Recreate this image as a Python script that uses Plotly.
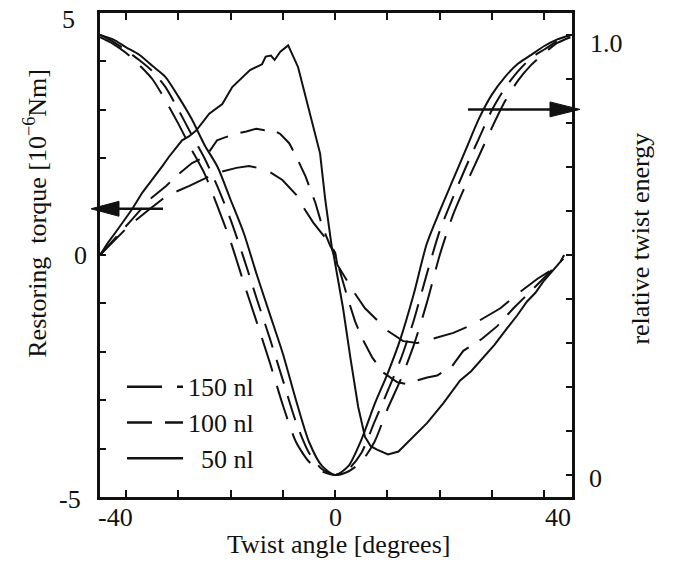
import plotly.graph_objects as go

# ---------------- data ----------------
# Restoring torque [1e-6 Nm] vs twist angle [deg]
x_t50 = [-45, -43.5, -42, -40.5, -38.9, -36.9, -35, -33.1, -31.8, -29.3, -28, -26.6, -24.1, -21.6,
         -19.7, -17, -16.3, -14, -13.3, -12.3, -11.6, -10.5, -9.0, -7.1, -5.4, -2.9, -1.9, -0.6, -0.3,
         1.5, 2.9, 4.4, 5.7, 6.8, 8, 10.1, 12.1, 14.9, 17.6, 20.7, 23.9, 26, 28.3, 30.5, 32.9,
         34.8, 36.7, 38.3, 39.8, 41.5, 43.1, 43.8]
t50 = [0.0, 0.25, 0.47, 0.7, 0.94, 1.29, 1.55, 1.83, 2.03, 2.37, 2.45, 2.57, 2.92, 3.12,
       3.47, 3.75, 3.82, 3.94, 4.1, 4.12, 4.03, 4.2, 4.33, 3.88, 3.18, 2.1, 1.14, 0.12, 0.0,
       -1.1, -2.12, -3.14, -3.76, -3.95, -4.02, -4.12, -4.06, -3.76, -3.47, -3.06, -2.59, -2.4, -2.12, -1.85, -1.51,
       -1.25, -0.96, -0.78, -0.55, -0.33, -0.14, 0.0]

x_t100 = [-45, -42, -38.9, -35.6, -32.3, -30.4, -27.4, -24.7, -22.6, -21.6, -18.9, -17, -15.1, -13.5,
          -12.1, -10.5, -8.8, -7.5, -5.7, -3.8, -2.5, -1, 0, 2.3, 3.8, 5.1, 7.1, 9.2, 11.9, 13.5,
          15.7, 17.6, 19.5, 22.4, 24.5, 28.1, 31, 34.1, 37.3, 40.6, 43.6]
t100 = [0.0, 0.35, 0.73, 1.14, 1.43, 1.63, 1.9, 2.04, 2.37, 2.41, 2.51, 2.55, 2.61, 2.58,
        2.6, 2.5, 2.31, 2.04, 1.63, 1.08, 0.6, 0.2, 0.0, -0.86, -1.37, -1.71, -2.12, -2.43, -2.63, -2.66,
        -2.59, -2.53, -2.49, -2.29, -1.98, -1.73, -1.47, -1.1, -0.76, -0.41, -0.08]

x_t150 = [-45, -42, -39.4, -35.6, -32.3, -27.9, -25.5, -22.8, -18.9, -16.5, -13.2, -10.1, -7.5, -6.3,
          -4.2, -1.3, 0, 0.4, 3.8, 5.7, 10.1, 13, 15.7, 18.8, 22.6, 26.4, 31.6, 35.4, 38.7, 41.7, 43.6]
t150 = [0.0, 0.33, 0.61, 0.94, 1.22, 1.43, 1.55, 1.69, 1.8, 1.84, 1.76, 1.55, 1.25, 1.02,
        0.67, 0.27, 0.05, -0.2, -0.8, -1.1, -1.57, -1.78, -1.82, -1.73, -1.61, -1.43, -1.1, -0.76, -0.49, -0.29, -0.08]

# Relative twist energy vs twist angle
x_e = [-45, -42.5, -40, -37.5, -35, -32.5, -30, -27.5, -25, -22.5, -20, -17.5, -15, -12.5, -10, -7.5, -5, -2.5, 0,
       2.5, 5, 7.5, 10, 12.5, 15, 17.5, 20, 22.5, 25, 27.5, 30, 32.5, 35, 37.5, 40, 42.5, 45]
e50 = [1.0, 0.99, 0.972, 0.955, 0.93, 0.905, 0.86, 0.81, 0.75, 0.70, 0.625, 0.55, 0.455, 0.365, 0.275, 0.17, 0.075, 0.02, 0.0,
       0.02, 0.08, 0.16, 0.23, 0.31, 0.41, 0.525, 0.60, 0.67, 0.74, 0.81, 0.865, 0.905, 0.935, 0.955, 0.975, 0.99, 1.0]
e100 = [1.0, 0.985, 0.965, 0.943, 0.918, 0.882, 0.83, 0.774, 0.72, 0.655, 0.58, 0.493, 0.40, 0.31, 0.215, 0.12, 0.05, 0.013, 0.0,
        0.013, 0.05, 0.12, 0.19, 0.262, 0.35, 0.456, 0.555, 0.63, 0.70, 0.765, 0.83, 0.88, 0.918, 0.948, 0.967, 0.986, 1.0]
e150 = [0.995, 0.98, 0.959, 0.932, 0.90, 0.852, 0.798, 0.74, 0.685, 0.61, 0.53, 0.437, 0.347, 0.255, 0.158, 0.075, 0.03, 0.008, 0.0,
        0.008, 0.03, 0.075, 0.15, 0.216, 0.294, 0.39, 0.50, 0.59, 0.66, 0.725, 0.79, 0.85, 0.897, 0.932, 0.959, 0.982, 0.995]

series_names = ["150 nl", "100 nl", "50 nl"]
x_ticks = [-40, -30, -20, -10, 0, 10, 20, 30, 40]
x_tick_label_vals = [-40, 0, 40]
x_tick_labels = ["-40", "0", "40"]
y_ticks = [-5, -4, -3, -2, -1, 0, 1, 2, 3, 4, 5]
y_tick_label_vals = [5, 0, -5]
y_tick_labels = ["5", "0", "-5"]
y2_ticks = [0, 0.1, 0.2, 0.3, 0.4, 0.5, 0.6, 0.7, 0.8, 0.9, 1.0]
y2_tick_label_vals = [1.0, 0]
y2_tick_labels = ["1.0", "0"]

# ---------------- style ----------------
W, H = 679, 563
OFF = 8  # page body margin of the written html
# plot frame in window pixels: left 100, right 572, top 10, bottom 497
L, R, T, B = 100 - OFF, W - (572 - OFF), 10 - OFF, H - (497 - OFF)
PLOT_H = H - T - B
FONT = "Liberation Serif, Times New Roman, Times, serif"
FS = 26
INK = "#111111"
DASH = {"150 nl": "35px,15px", "100 nl": "25px,13px", "50 nl": "solid"}
X_RANGE = [-45, 45.3]


def px2paper_x(px):
    return (px - OFF - L) / (W - L - R)


def px2paper_y(py):
    return (H - B - (py - OFF)) / PLOT_H


fig = go.Figure()

torque = {"150 nl": (x_t150, t150), "100 nl": (x_t100, t100), "50 nl": (x_t50, t50)}
energy = {"150 nl": e150, "100 nl": e100, "50 nl": e50}

for name in series_names:
    xs, ys = torque[name]
    fig.add_trace(go.Scatter(x=xs, y=ys, mode="lines", name=name, showlegend=False,
                             line=dict(color=INK, width=2, dash=DASH[name])))
for name in series_names:
    fig.add_trace(go.Scatter(x=x_e, y=energy[name], mode="lines", name=name + " energy",
                             showlegend=False, yaxis="y2",
                             line=dict(color=INK, width=2, dash=DASH[name], shape="spline", smoothing=0.7)))

axis_common = dict(showgrid=False, zeroline=False, showline=True, linecolor=INK, linewidth=2.5,
                   ticks="inside", tickcolor=INK, tickwidth=2, showticklabels=False)

fig.update_layout(
    width=W, height=H,
    margin=dict(l=L, r=R, t=T, b=B),
    paper_bgcolor="white", plot_bgcolor="white",
    font=dict(family=FONT, size=FS, color=INK),
    showlegend=False,
    xaxis=dict(range=X_RANGE, tickvals=x_ticks, ticklen=7, mirror="ticks", **axis_common),
    yaxis=dict(range=[-5, 5], tickvals=y_ticks, ticklen=6, **axis_common),
    yaxis2=dict(range=[-0.05, 1.05], tickvals=y2_ticks, ticklen=6, overlaying="y", side="right",
                **axis_common),
)

ann = []
# x tick labels
x_shift = {"-40": -11, "0": 0, "40": 14}
for v, t in zip(x_tick_label_vals, x_tick_labels):
    ann.append(dict(x=v, xref="x", y=0, yref="paper", text=t, showarrow=False,
                    xanchor="center", yanchor="middle", xshift=x_shift[t], yshift=-20))
# left tick labels
yl_shift = {"5": (-32, -6), "0": (-20, 0), "-5": (-30, -2)}
for v, t in zip(y_tick_label_vals, y_tick_labels):
    dx, dy = yl_shift[t]
    ann.append(dict(x=0, xref="paper", y=v, yref="y", text=t, showarrow=False,
                    xanchor="center", yanchor="middle", xshift=dx, yshift=dy))
# right tick labels
yr_shift = {"1.0": (34, -8), "0": (23, -3)}
for v, t in zip(y2_tick_label_vals, y2_tick_labels):
    dx, dy = yr_shift[t]
    ann.append(dict(x=1, xref="paper", y=v, yref="y2", text=t, showarrow=False,
                    xanchor="center", yanchor="middle", xshift=dx, yshift=dy))
# axis titles
ann.append(dict(x=px2paper_x(338), y=px2paper_y(545), xref="paper", yref="paper",
                text="Twist angle [degrees]", showarrow=False, xanchor="center", yanchor="middle"))
ann.append(dict(x=px2paper_x(36), y=px2paper_y(212), xref="paper", yref="paper",
                text="Restoring  torque [10<sup>−6</sup>Nm]", showarrow=False, textangle=-90,
                xanchor="center", yanchor="middle"))
ann.append(dict(x=px2paper_x(641), y=px2paper_y(237), xref="paper", yref="paper",
                text="relative twist energy", showarrow=False, textangle=-90,
                xanchor="center", yanchor="middle"))

# custom legend (right-aligned labels)
legend_y = [386, 422, 458]
for name, ly in zip(series_names, legend_y):
    fig.add_shape(type="line", xref="paper", yref="paper",
                  x0=px2paper_x(127), x1=px2paper_x(183), y0=px2paper_y(ly), y1=px2paper_y(ly),
                  line=dict(color=INK, width=2.5, dash=DASH[name]))
    ann.append(dict(x=px2paper_x(256), y=px2paper_y(ly + 1), xref="paper", yref="paper",
                    text=name, showarrow=False, xanchor="right", yanchor="middle"))

fig.update_layout(annotations=ann)


# arrows pointing to the relevant axes
def arrow(tail_px, base_px, tip_px, y_px, half=7.5):
    fig.add_shape(type="line", xref="paper", yref="paper",
                  x0=px2paper_x(tail_px), x1=px2paper_x(base_px),
                  y0=px2paper_y(y_px), y1=px2paper_y(y_px), line=dict(color=INK, width=2.5))
    path = "M {:.5f} {:.5f} L {:.5f} {:.5f} L {:.5f} {:.5f} Z".format(
        px2paper_x(tip_px), px2paper_y(y_px),
        px2paper_x(base_px), px2paper_y(y_px - half),
        px2paper_x(base_px), px2paper_y(y_px + half))
    fig.add_shape(type="path", xref="paper", yref="paper", path=path,
                  fillcolor=INK, line=dict(color=INK, width=1))


arrow(163, 119, 91, 207)
arrow(468, 550, 580, 107)

fig.write_html("out.html")
